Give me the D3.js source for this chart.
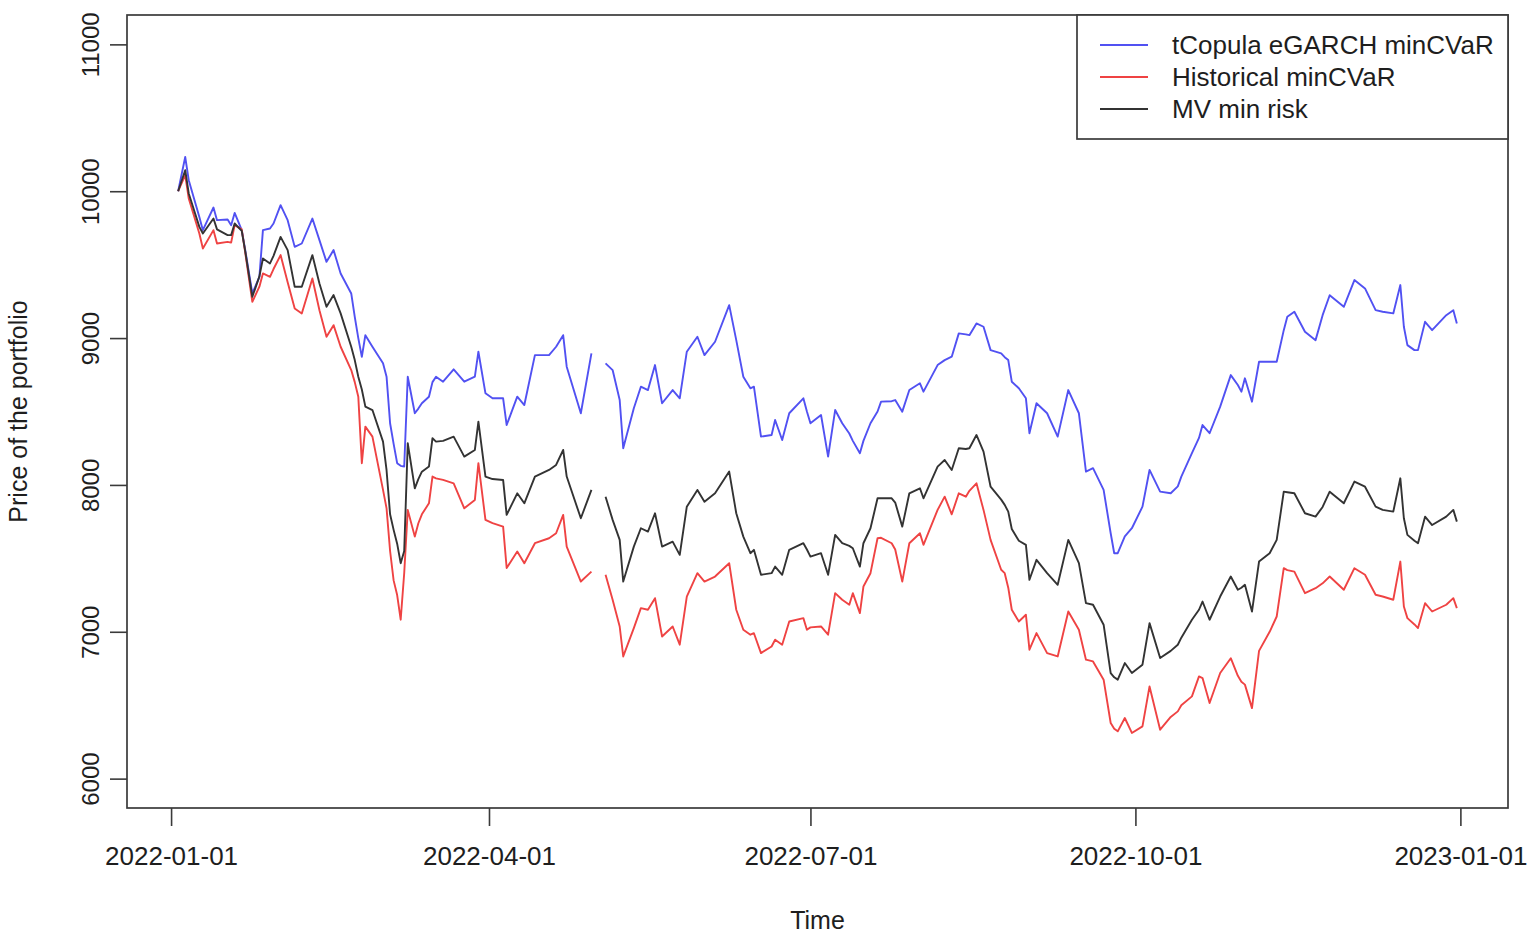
<!DOCTYPE html>
<html>
<head>
<meta charset="utf-8">
<script src="https://cdn.jsdelivr.net/npm/d3@7"></script>
<style>
  body { margin: 0; background: #fff; }
  text { font-family: "Liberation Sans", Arial, sans-serif; fill: #1e1e1e; }
</style>
</head>
<body>
<div id="chart"></div>
<script>
// portfolio values (null = break in the series)
const dates = [
  "2022-01-03","2022-01-05","2022-01-06","2022-01-09","2022-01-10","2022-01-13","2022-01-14","2022-01-17","2022-01-18","2022-01-19",
  "2022-01-21","2022-01-22","2022-01-24","2022-01-26","2022-01-27","2022-01-29","2022-01-30","2022-02-01","2022-02-03","2022-02-05",
  "2022-02-07","2022-02-10","2022-02-12","2022-02-14","2022-02-16","2022-02-18","2022-02-21","2022-02-22","2022-02-23","2022-02-24",
  "2022-02-25","2022-02-27","2022-03-02","2022-03-03","2022-03-04","2022-03-05","2022-03-06","2022-03-07","2022-03-08","2022-03-09",
  "2022-03-11","2022-03-12","2022-03-13","2022-03-15","2022-03-16","2022-03-17","2022-03-19","2022-03-22","2022-03-25","2022-03-28",
  "2022-03-29","2022-03-31","2022-04-02","2022-04-05","2022-04-06","2022-04-09","2022-04-11","2022-04-14","2022-04-18","2022-04-20",
  "2022-04-22","2022-04-23","2022-04-27","2022-04-30","2022-05-02","2022-05-04","2022-05-06","2022-05-08","2022-05-09","2022-05-12",
  "2022-05-14","2022-05-16","2022-05-18","2022-05-20","2022-05-23","2022-05-25","2022-05-27","2022-05-30","2022-06-01","2022-06-04",
  "2022-06-08","2022-06-10","2022-06-12","2022-06-14","2022-06-15","2022-06-17","2022-06-20","2022-06-21","2022-06-23","2022-06-25",
  "2022-06-29","2022-06-30","2022-07-01","2022-07-04","2022-07-06","2022-07-08","2022-07-10","2022-07-12","2022-07-13","2022-07-15",
  "2022-07-16","2022-07-18","2022-07-20","2022-07-21","2022-07-24","2022-07-25","2022-07-27","2022-07-29","2022-08-01","2022-08-02",
  "2022-08-06","2022-08-08","2022-08-10","2022-08-12","2022-08-14","2022-08-15","2022-08-17","2022-08-19","2022-08-21","2022-08-24",
  "2022-08-25","2022-08-26","2022-08-27","2022-08-29","2022-08-31","2022-09-01","2022-09-03","2022-09-06","2022-09-09","2022-09-12",
  "2022-09-15","2022-09-17","2022-09-19","2022-09-22","2022-09-24","2022-09-25","2022-09-26","2022-09-28","2022-09-30","2022-10-03",
  "2022-10-05","2022-10-08","2022-10-11","2022-10-13","2022-10-14","2022-10-17","2022-10-19","2022-10-20","2022-10-22","2022-10-25",
  "2022-10-28","2022-10-30","2022-10-31","2022-11-01","2022-11-03","2022-11-05","2022-11-08","2022-11-10","2022-11-12","2022-11-13",
  "2022-11-15","2022-11-18","2022-11-21","2022-11-23","2022-11-25","2022-11-29","2022-12-02","2022-12-05","2022-12-08","2022-12-10",
  "2022-12-13","2022-12-15","2022-12-16","2022-12-17","2022-12-19","2022-12-20","2022-12-22","2022-12-24","2022-12-28","2022-12-30",
  "2022-12-31"
];

const tCopula = [
  10000,10233,10075,9825,9735,9889,9803,9807,9769,9852,
  9735,9599,9304,9417,9735,9746,9780,9905,9803,9621,
  9644,9814,9667,9519,9599,9440,9304,9145,9000,8872,
  9020,8941,8828,8737,8420,8280,8148,8130,8125,8737,
  8488,8520,8556,8600,8700,8737,8703,8787,8703,8737,
  8907,8624,8590,8590,8408,8601,8544,8884,8884,8941,
  9020,8805,8488,8896,null,8828,8782,8578,8250,8522,
  8669,8646,8816,8556,8646,8590,8907,9009,8884,8975,
  9224,8986,8737,8658,8669,8329,8340,8442,8306,8488,
  8590,8500,8420,8476,8193,8510,8420,8350,8300,8216,
  8300,8420,8500,8567,8570,8578,8499,8646,8692,8635,
  8816,8850,8873,9032,9025,9020,9100,9077,8918,8896,
  8870,8850,8703,8658,8590,8352,8556,8488,8329,8646,
  8488,8091,8114,7966,7671,7535,7535,7650,7705,7852,
  8102,7954,7943,7990,8057,8216,8320,8408,8352,8533,
  8748,8680,8635,8726,8567,8839,8839,8839,9054,9145,
  9179,9043,8986,9156,9292,9213,9395,9338,9190,9179,
  9168,9361,9077,8952,8918,8918,9111,9054,9156,9190,
  9100
];

const historical = [
  10000,10109,9950,9712,9610,9735,9644,9655,9650,9769,
  9740,9580,9247,9350,9440,9417,9470,9565,9380,9202,
  9168,9406,9190,9009,9088,8941,8782,8700,8601,8148,
  8397,8329,7966,7840,7550,7350,7250,7082,7400,7830,
  7648,7739,7800,7875,8057,8045,8034,8011,7841,7898,
  8148,7762,7740,7716,7434,7546,7467,7603,7637,7671,
  7796,7580,7342,7410,null,7388,7218,7036,6832,7025,
  7161,7150,7229,6968,7036,6912,7240,7399,7342,7376,
  7467,7150,7014,6980,6990,6855,6900,6946,6912,7070,
  7093,7014,7030,7036,6980,7263,7218,7184,7263,7127,
  7308,7399,7637,7640,7603,7560,7342,7603,7671,7592,
  7830,7920,7800,7943,7920,7960,8011,7830,7626,7422,
  7399,7300,7150,7070,7116,6878,6991,6855,6832,7138,
  7014,6810,6798,6674,6379,6340,6322,6413,6311,6356,
  6628,6333,6420,6458,6500,6560,6696,6685,6515,6719,
  6820,6700,6660,6640,6480,6870,7000,7104,7433,7420,
  7410,7263,7297,7330,7376,7286,7433,7388,7252,7240,
  7218,7478,7172,7093,7050,7025,7195,7138,7184,7229,
  7161
];

const mvMinRisk = [
  10000,10143,9985,9757,9712,9814,9740,9701,9701,9780,
  9730,9590,9281,9420,9542,9508,9560,9689,9599,9349,
  9349,9565,9372,9213,9293,9168,8941,8850,8737,8650,
  8533,8510,8295,8100,7800,7694,7600,7467,7550,8284,
  7977,8040,8090,8125,8318,8295,8300,8329,8193,8238,
  8431,8057,8040,8034,7796,7943,7875,8057,8102,8136,
  8238,8057,7773,7966,null,7920,7762,7626,7342,7580,
  7705,7682,7807,7580,7614,7524,7852,7966,7886,7943,
  8091,7807,7648,7535,7558,7388,7399,7444,7388,7558,
  7603,7560,7512,7535,7388,7660,7603,7585,7569,7444,
  7603,7705,7909,7909,7909,7880,7716,7943,7977,7909,
  8125,8170,8102,8250,8245,8250,8340,8227,7988,7900,
  7864,7818,7700,7620,7592,7354,7490,7399,7320,7626,
  7467,7195,7184,7048,6719,6690,6674,6787,6719,6776,
  7059,6821,6870,6912,6960,7082,7150,7206,7082,7240,
  7376,7286,7300,7320,7138,7478,7535,7626,7954,7950,
  7943,7807,7784,7850,7954,7875,8023,7988,7852,7830,
  7818,8045,7773,7660,7620,7603,7784,7727,7784,7830,
  7750
];

const seriesNames = ["tCopula eGARCH minCVaR", "Historical minCVaR", "MV min risk"];
const seriesColors = ["#5151f2", "#ef4343", "#333333"];
const yTicks = [6000, 7000, 8000, 9000, 10000, 11000];
const xTicks = ["2022-01-01", "2022-04-01", "2022-07-01", "2022-10-01", "2023-01-01"];
const yLimits = [6000, 11000];

const width = 1536, height = 938;
const box = { left: 127, right: 1508, top: 15, bottom: 808 };

const parse = d3.timeParse("%Y-%m-%d");
const times = dates.map(parse);

// R style: extend the data range by 4% on each side
const t0 = d3.min(times), t1 = d3.max(times);
const tPad = (t1 - t0) * 0.04;
const yPad = (yLimits[1] - yLimits[0]) * 0.04;

const x = d3.scaleTime()
  .domain([new Date(+t0 - tPad), new Date(+t1 + tPad)])
  .range([box.left, box.right]);

const y = d3.scaleLinear()
  .domain([yLimits[0] - yPad, yLimits[1] + yPad])
  .range([box.bottom, box.top]);

const svg = d3.select("#chart")
  .append("svg")
  .attr("width", width)
  .attr("height", height);

// lines: blue first, then red, black on top
const series = [tCopula, historical, mvMinRisk];
const line = d3.line()
  .defined(d => d.v != null)
  .x(d => x(d.t))
  .y(d => y(d.v));

series.forEach((vals, i) => {
  const pts = vals.map((v, j) => ({ t: times[j], v: v }));
  svg.append("path")
    .datum(pts)
    .attr("fill", "none")
    .attr("stroke", seriesColors[i])
    .attr("stroke-width", 1.9)
    .attr("stroke-linejoin", "round")
    .attr("d", line);
});

// plot box
svg.append("rect")
  .attr("x", box.left)
  .attr("y", box.top)
  .attr("width", box.right - box.left)
  .attr("height", box.bottom - box.top)
  .attr("fill", "none")
  .attr("stroke", "#3a3a3a")
  .attr("stroke-width", 1.7);

// x axis
const xAxis = svg.append("g")
  .attr("transform", `translate(0,${box.bottom})`)
  .call(d3.axisBottom(x)
    .tickValues(xTicks.map(parse))
    .tickFormat(d3.timeFormat("%Y-%m-%d"))
    .tickSize(18)
    .tickPadding(21));
xAxis.select(".domain").remove();
xAxis.selectAll("line").attr("stroke", "#3a3a3a").attr("stroke-width", 1.6);
xAxis.selectAll("text")
  .style("font-size", "26px")
  .style("font-family", "'Liberation Sans', Arial, sans-serif")
  .attr("fill", "#1a1a1a");

// y axis, labels parallel to the axis
const yAxis = svg.append("g")
  .attr("transform", `translate(${box.left},0)`)
  .call(d3.axisLeft(y).tickValues(yTicks).tickFormat(d3.format("d")).tickSize(17));
yAxis.select(".domain").remove();
yAxis.selectAll("line").attr("stroke", "#3a3a3a").attr("stroke-width", 1.6);
yAxis.selectAll("text")
  .attr("x", null)
  .attr("dy", "0.36em")
  .attr("transform", "translate(-37,0) rotate(-90)")
  .attr("text-anchor", "middle")
  .style("font-size", "24px")
  .style("font-family", "'Liberation Sans', Arial, sans-serif")
  .attr("fill", "#1a1a1a");

// axis titles
svg.append("text")
  .attr("x", (box.left + box.right) / 2)
  .attr("y", 920)
  .attr("dy", "0.35em")
  .attr("text-anchor", "middle")
  .style("font-size", "25px")
  .text("Time");

svg.append("text")
  .attr("transform", `translate(18,${(box.top + box.bottom) / 2}) rotate(-90)`)
  .attr("dy", "0.35em")
  .attr("text-anchor", "middle")
  .style("font-size", "25px")
  .text("Price of the portfolio");

// legend, top right inside the box
const legend = svg.append("g");
legend.append("rect")
  .attr("x", 1077)
  .attr("y", box.top)
  .attr("width", box.right - 1077)
  .attr("height", 124)
  .attr("fill", "#fff")
  .attr("stroke", "#3a3a3a")
  .attr("stroke-width", 1.7);

seriesNames.forEach((name, i) => {
  const ly = 45 + i * 32;
  legend.append("line")
    .attr("x1", 1100).attr("x2", 1148)
    .attr("y1", ly).attr("y2", ly)
    .attr("stroke", seriesColors[i])
    .attr("stroke-width", 1.9);
  legend.append("text")
    .attr("x", 1172)
    .attr("y", ly)
    .attr("dy", "0.35em")
    .style("font-size", "26px")
    .text(name);
});
</script>
</body>
</html>
